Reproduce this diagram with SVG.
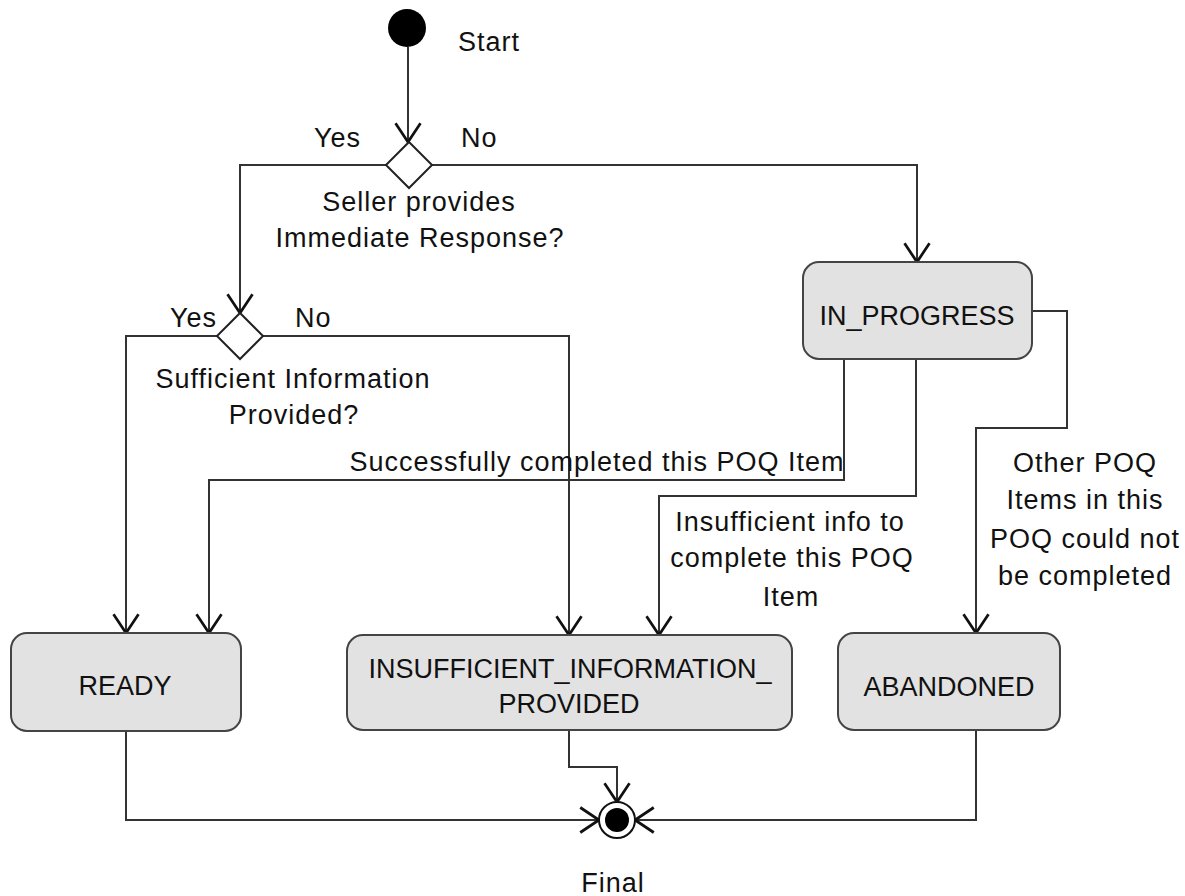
<svg xmlns="http://www.w3.org/2000/svg" width="1185" height="896" viewBox="0 0 1185 896">
<defs>
<marker id="arr" markerUnits="userSpaceOnUse" markerWidth="30" markerHeight="30" viewBox="-16 -12 20 24" refX="0" refY="0" orient="auto">
<path d="M -15 -10 L 0 0 L -15 10" fill="none" stroke="#111" stroke-width="2.2"/>
</marker>
</defs>
<style>
text{font-family:"Liberation Sans",Arial,sans-serif;font-size:27px;fill:#111;letter-spacing:1px}
.c{text-anchor:middle}
.b{letter-spacing:0}
.box{fill:#e2e2e2;stroke:#444;stroke-width:2}
.dia{fill:#fff;stroke:#222;stroke-width:2}
.ln{fill:none;stroke:#333;stroke-width:2;marker-end:url(#arr)}
</style>
<rect width="1185" height="896" fill="#fff"/>
<g id="connectors">
<path class="ln" d="M408 47 L408 142"/>
<path class="ln" d="M386 165 L240 165 L240 313"/>
<path class="ln" d="M432 165 L917 165 L917 262"/>
<path class="ln" d="M217 336 L126 336 L126 633"/>
<path class="ln" d="M263 336 L569 336 L569 635"/>
<path class="ln" d="M844 359 L844 480 L209 480 L209 633"/>
<path class="ln" d="M916 359 L916 496 L659 496 L659 635"/>
<path class="ln" d="M1032 311 L1067 311 L1067 428 L976 428 L976 633"/>
<path class="ln" d="M126 731 L126 820 L599 820"/>
<path class="ln" d="M569 730 L569 767 L617 767 L617 802"/>
<path class="ln" d="M976 730 L976 820 L635 820"/>
</g>
<g id="start">
<circle cx="407" cy="28" r="19" fill="#000"/>
<text x="458" y="51">Start</text>
</g>
<g id="decision1">
<path class="dia" d="M409 142 L432 165 L409 188 L386 165 Z"/>
<text x="314" y="147">Yes</text>
<text x="461" y="147">No</text>
<text class="c" x="419" y="211">Seller provides</text>
<text class="c" x="420" y="247">Immediate Response?</text>
</g>
<g id="decision2">
<path class="dia" d="M240 313 L263 336 L240 359 L217 336 Z"/>
<text x="170" y="327">Yes</text>
<text x="295" y="327">No</text>
<text class="c" x="293" y="388">Sufficient Information</text>
<text class="c" x="294" y="424">Provided?</text>
</g>
<g id="in_progress">
<rect class="box" x="803" y="262" width="229" height="97" rx="16"/>
<text class="c b" x="917" y="325">IN_PROGRESS</text>
</g>
<g id="ready">
<rect class="box" x="11" y="633" width="230" height="98" rx="16"/>
<text class="c b" x="125" y="695">READY</text>
</g>
<g id="insufficient">
<rect class="box" x="347" y="635" width="445" height="95" rx="16"/>
<text class="c b" x="570" y="678">INSUFFICIENT_INFORMATION_</text>
<text class="c b" x="569" y="713">PROVIDED</text>
</g>
<g id="abandoned">
<rect class="box" x="838" y="633" width="222" height="97" rx="16"/>
<text class="c b" x="949" y="696">ABANDONED</text>
</g>
<g id="final">
<circle cx="617" cy="820" r="18" fill="#fff" stroke="#111" stroke-width="2"/>
<circle cx="617" cy="820" r="12" fill="#000"/>
<text class="c" x="613" y="892">Final</text>
</g>
<g id="labels">
<text class="c" x="597" y="471">Successfully completed this POQ Item</text>
<text class="c" x="790" y="531">Insufficient info to</text>
<text class="c" x="792" y="567">complete this POQ</text>
<text class="c" x="791" y="606">Item</text>
<text class="c" x="1085" y="472">Other POQ</text>
<text class="c" x="1085" y="509">Items in this</text>
<text class="c" x="1085" y="548">POQ could not</text>
<text class="c" x="1085" y="585">be completed</text>
</g>
</svg>
